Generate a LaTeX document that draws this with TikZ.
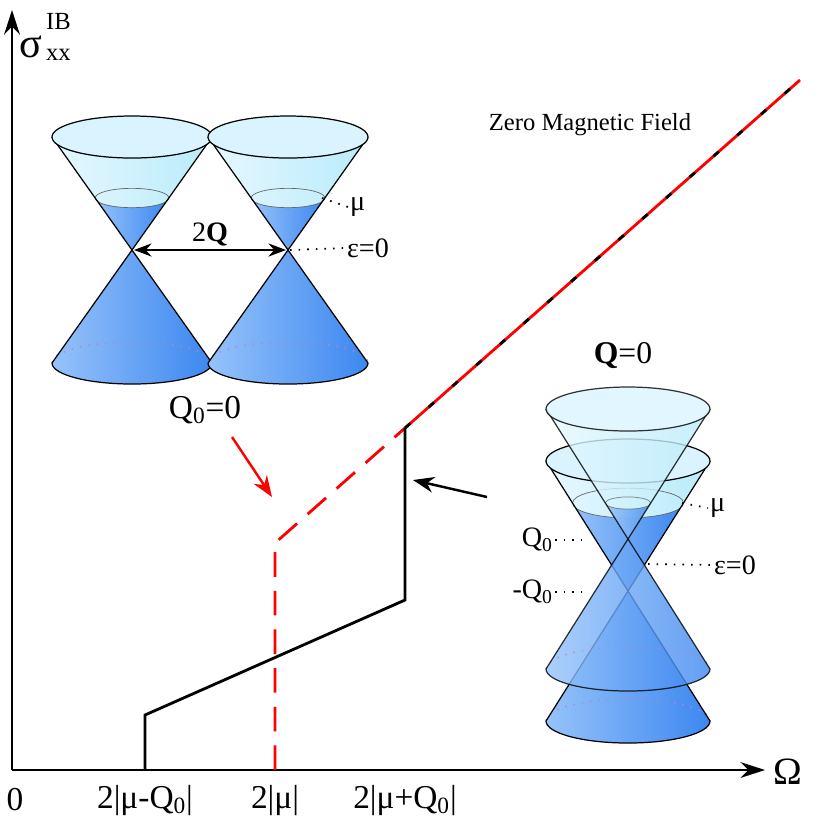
\documentclass[tikz,border=0pt]{standalone}
\usepackage{fontspec}
\setmainfont{Liberation Serif}
\usetikzlibrary{positioning,arrows.meta}
\definecolor{conelight}{RGB}{150,195,250}
\definecolor{conedark}{RGB}{60,135,240}
\definecolor{toplight}{RGB}{230,248,255}
\definecolor{topdark}{RGB}{185,235,250}

% one cone pair: centre x, apex y, half height, radius, ellipse radius, mu level
\newcommand{\diraccone}[6]{%
  \pgfmathsetmacro\mur{#4*(#2-#6)/#3}
  \pgfmathsetmacro\mury{#5*(#2-#6)/#3}
  % lower part
  \shade[left color=conelight, right color=conedark]
    (#1-#4,#2+#3) -- (#1,#2) -- (#1+#4,#2+#3)
    arc[start angle=0,end angle=180,x radius=#4,y radius=#5] -- cycle;
  \draw[dash pattern=on 0.8pt off 4pt, line width=0.8pt, violet!50] (#1-#4,#2+#3)
    arc[start angle=180,end angle=360,x radius=#4,y radius=#5];
  \draw[edge] (#1-#4,#2+#3) -- (#1,#2) -- (#1+#4,#2+#3)
    arc[start angle=0,end angle=180,x radius=#4,y radius=#5];
  % upper part
  \shade[left color=toplight, right color=topdark]
    (#1-#4,#2-#3) -- (#1,#2) -- (#1+#4,#2-#3)
    arc[start angle=0,end angle=180,x radius=#4,y radius=#5] -- cycle;
  \shade[left color=conelight, right color=conedark]
    (#1-\mur,#6) -- (#1,#2) -- (#1+\mur,#6)
    arc[start angle=0,end angle=180,x radius=\mur,y radius=\mury] -- cycle;
  \draw[black!60] (#1,#6) ellipse[x radius=\mur,y radius=\mury];
  \draw[edge] (#1-#4,#2-#3) -- (#1,#2) -- (#1+#4,#2-#3);
  \draw[edge, fill=toplight!70!topdark] (#1,#2-#3) ellipse[x radius=#4,y radius=#5];
}

\begin{document}
\begin{tikzpicture}[x=0.02cm,y=-0.02cm,
    edge/.style={line width=0.7pt, black},
    axis/.style={line width=1.2pt, -{Stealth[length=14pt,width=9pt]}},
    curve/.style={line width=1.6pt},
    lbl/.style={font=\fontsize{19}{19}\selectfont, inner sep=1pt},
    small/.style={font=\fontsize{16}{16}\selectfont, inner sep=1pt},
    lvl/.style={dash pattern=on 0.9pt off 4pt, line width=1pt}]
  \useasboundingbox (0,0) rectangle (830,823);

  % cones left
  \diraccone{132}{250}{113}{80}{21}{198}
  \diraccone{288}{250}{113}{80}{21}{198}
  \draw[{Stealth[length=10pt]}-{Stealth[length=10pt]}, line width=0.7pt] (134,250) -- (286,250);
  \node[small, above=1pt] (twoq) at (210,250) {2\textbf{Q}};
  \coordinate (muL) at (322,198);
  \coordinate (epsL) at (290,250);
  \node[small, right] (mulbl) at (348,207) {μ};
  \node[small, right] (epslbl) at (345,248) {ε=0};
  \draw[lvl] (muL) -- (mulbl.west);
  \draw[lvl] (epsL) -- (epslbl.west);

  % cones right
  \diraccone{628}{591}{130}{82}{22}{503}
  \begin{scope}[opacity=0.8]
    \diraccone{628}{539}{130}{82}{22}{503}
  \end{scope}
  \node[small, font=\fontsize{18}{18}\selectfont] (qzero) at (623,356) {\textbf{Q}=0};
  \node[small, right] (mur) at (708,508) {μ};
  \node[small, right] (epsr) at (712,565) {ε=0};
  \node[small, left] (qnot) at (555,540) {Q\textsubscript{0}};
  \node[small, left] (mqnot) at (555,592) {-Q\textsubscript{0}};
  \draw[lvl] (682,503) -- (mur.west);
  \draw[lvl] (648,564) -- (epsr.west);
  \draw[lvl] (qnot.east) -- (584,540);
  \draw[lvl] (mqnot.east) -- (584,592);

  % axes
  \coordinate (o) at (12,770);
  \draw[axis] (o) -- (12,10);
  \draw[axis] (o) -- (765,770);
  \node[lbl, font=\fontsize{22}{22}\selectfont] (omega) at (788,772) {Ω};
  \node[lbl, font=\fontsize{24}{24}\selectfont] (sigma) at (31,47) {σ};
  \node[lbl, font=\fontsize{14}{14}\selectfont, anchor=south west] (sup) at (44,32) {IB};
  \node[lbl, font=\fontsize{14}{14}\selectfont, anchor=north west] (sub) at (44,47) {xx};

  \node[lbl] (t0) at (15,800) {0};
  \node[lbl] (t1) at (145,800) {2|μ-Q\textsubscript{0}|};
  \node[lbl] (t2) at (275,800) {2|μ|};
  \node[lbl] (t3) at (405,800) {2|μ+Q\textsubscript{0}|};

  % curves
  \coordinate (a0) at (145,770);
  \coordinate (a1) at (145,715);
  \coordinate (a2) at (405,600);
  \coordinate (a3) at (405,428);
  \coordinate (b0) at (275,770);
  \coordinate (b1) at (275,543);
  \coordinate (e) at (800,80);
  \draw[curve, red, dash pattern=on 14pt off 8pt] (b0) -- (b1) -- (a3);
  \draw[curve] (a0) -- (a1) -- (a2) -- (a3);
  \draw[curve, red] (a3) -- (e);
  \draw[curve, black, dash pattern=on 4pt off 14pt] (a3) -- (e);

  \node[small, font=\fontsize{14}{14}\selectfont] (zero) at (590,125) {Zero Magnetic Field};
  \node[lbl] (qq) at (205,410) {Q\textsubscript{0}=0};
  \draw[red, line width=1.4pt, -{Stealth[length=12pt,width=9pt]}] (232,437) -- (272,497);
  \draw[black, line width=1.4pt, -{Stealth[length=12pt,width=9pt]}] (487,497) -- (413,480);
\end{tikzpicture}
\end{document}
